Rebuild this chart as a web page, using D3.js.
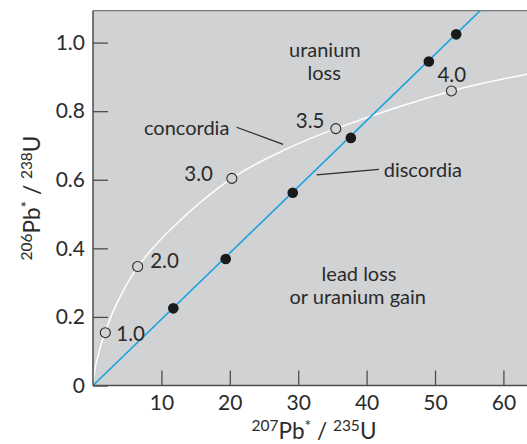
<!DOCTYPE html>
<html>
<head>
<meta charset="utf-8">
<script src="https://cdn.jsdelivr.net/npm/d3@7/dist/d3.min.js"></script>
<style>
  html, body { margin: 0; padding: 0; background: #fff; }
  svg { display: block; font-family: Lato, "Open Sans", sans-serif; }
</style>
</head>
<body>
<svg id="chart" width="527" height="444"></svg>
<script>
// ---- data ----
const concordiaX = [0, 0.15, 0.54, 1.75, 3.4, 6.54, 11.5, 20.28, 28, 35.5, 52.44, 63.45];
const concordiaY = [0, 0.031, 0.072, 0.154, 0.236, 0.346, 0.458, 0.604, 0.687, 0.749, 0.859, 0.908];

const ageLabels = ["1.0", "2.0", "3.0", "3.5", "4.0"];
const ageX = [1.8, 6.53, 20.3, 35.5, 52.4];
const ageY = [0.154, 0.347, 0.604, 0.749, 0.859];

const sampleX = [11.74, 19.4, 29.2, 37.7, 49.1, 53.1];
const sampleY = [0.225, 0.369, 0.562, 0.722, 0.945, 1.024];

const discordiaX = [0, 58];
const discordiaY = [0, 1.12];

const xTicks = [10, 20, 30, 40, 50, 60];
const yTicks = [0, 0.2, 0.4, 0.6, 0.8, 1.0];
const yTickLabels = ["0", "0.2", "0.4", "0.6", "0.8", "1.0"];

// ---- layout ----
const svg = d3.select("#chart");
const pL = 93, pR = 527, pT = 10.7, pB = 385.5;
const x = d3.scaleLinear().domain([0, 63.45]).range([pL, pR]);
const y = d3.scaleLinear().domain([0, 1.093]).range([pB, pT]);

const textColor = "#2b2b2b";
const axisColor = "#4d4d4d";

svg.append("defs").append("clipPath").attr("id", "clip")
  .append("rect").attr("x", pL).attr("y", pT).attr("width", pR - pL).attr("height", pB - pT);

// background
svg.append("rect").attr("x", pL).attr("y", pT).attr("width", pR - pL).attr("height", pB - pT)
  .attr("fill", "#d1d2d4");

// top border
svg.append("line").attr("x1", pL).attr("x2", pR).attr("y1", pT).attr("y2", pT)
  .attr("stroke", "#7a7a7a").attr("stroke-width", 1.3);

const plot = svg.append("g").attr("clip-path", "url(#clip)");

// concordia curve
const conc = concordiaX.map((d, i) => [d, concordiaY[i]]);
plot.append("path").datum(conc)
  .attr("d", d3.line().x(d => x(d[0])).y(d => y(d[1])).curve(d3.curveCatmullRom.alpha(0.5)))
  .attr("fill", "none").attr("stroke", "#ffffff").attr("stroke-width", 1.5);

// discordia line
const disc = discordiaX.map((d, i) => [d, discordiaY[i]]);
plot.append("path").datum(disc)
  .attr("d", d3.line().x(d => x(d[0])).y(d => y(d[1])))
  .attr("fill", "none").attr("stroke", "#1aa3df").attr("stroke-width", 1.6);

// axes
const xAxis = d3.axisBottom(x).tickValues(xTicks).tickFormat(d3.format("d"))
  .tickSizeInner(-15).tickSizeOuter(0).tickPadding(9.5);
const gx = svg.append("g").attr("transform", `translate(0,${pB})`).call(xAxis);
gx.select(".domain").remove();
gx.selectAll(".tick line").attr("stroke", axisColor).attr("stroke-width", 1.3);
gx.selectAll(".tick text").attr("fill", textColor).attr("font-size", 21).attr("font-family", "Lato, sans-serif");

const yAxis = d3.axisLeft(y).tickValues(yTicks).tickFormat((d, i) => yTickLabels[i])
  .tickSizeInner(-15).tickSizeOuter(0).tickPadding(8);
const gy = svg.append("g").attr("transform", `translate(${pL},0)`).call(yAxis);
gy.select(".domain").remove();
gy.selectAll(".tick line").attr("stroke", axisColor).attr("stroke-width", 1.3);
gy.selectAll(".tick text").attr("fill", textColor).attr("font-size", 21).attr("font-family", "Lato, sans-serif");

// axis lines
svg.append("line").attr("x1", pL).attr("x2", pL).attr("y1", pT).attr("y2", pB)
  .attr("stroke", axisColor).attr("stroke-width", 1.5);
svg.append("line").attr("x1", pL).attr("x2", pR).attr("y1", pB).attr("y2", pB)
  .attr("stroke", axisColor).attr("stroke-width", 1.5);

// age markers (open circles)
plot.selectAll("circle.age").data(ageX).join("circle").attr("class", "age")
  .attr("cx", d => x(d)).attr("cy", (d, i) => y(ageY[i])).attr("r", 5)
  .attr("fill", "#d1d2d4").attr("stroke", "#2b2b2b").attr("stroke-width", 1.1);

// sample points
plot.selectAll("circle.sample").data(sampleX).join("circle").attr("class", "sample")
  .attr("cx", d => x(d)).attr("cy", (d, i) => y(sampleY[i])).attr("r", 5.3)
  .attr("fill", "#1a1a1a");

// age labels (offsets in px relative to marker)
const ageLabelOffsets = [[11, 8.5], [12.5, 1], [-47.5, 2.5], [-40, -1], [-14, -9]];
svg.selectAll("text.agelab").data(ageLabels).join("text").attr("class", "agelab")
  .attr("x", (d, i) => x(ageX[i]) + ageLabelOffsets[i][0])
  .attr("y", (d, i) => y(ageY[i]) + ageLabelOffsets[i][1])
  .attr("font-size", 20.5).attr("fill", textColor).text(d => d);

// annotations (data coordinates)
const notes = [
  { t: "uranium", x: 33.9, y: 0.959, a: "middle" },
  { t: "loss", x: 33.8, y: 0.891, a: "middle" },
  { t: "concordia", x: 7.45, y: 0.73, a: "start" },
  { t: "discordia", x: 42.5, y: 0.609, a: "start" },
  { t: "lead loss", x: 38.9, y: 0.306, a: "middle" },
  { t: "or uranium gain", x: 38.7, y: 0.238, a: "middle" }
];
svg.selectAll("text.note").data(notes).join("text").attr("class", "note")
  .attr("x", d => x(d.x)).attr("y", d => y(d.y)).attr("text-anchor", d => d.a)
  .attr("font-size", 20).attr("fill", textColor).text(d => d.t);

const leaders = [
  [[21.0, 0.753], [27.8, 0.703]],
  [[32.7, 0.614], [41.8, 0.630]]
];
svg.selectAll("line.leader").data(leaders).join("line").attr("class", "leader")
  .attr("x1", d => x(d[0][0])).attr("y1", d => y(d[0][1]))
  .attr("x2", d => x(d[1][0])).attr("y2", d => y(d[1][1]))
  .attr("stroke", "#2b2b2b").attr("stroke-width", 1.2);

// axis titles
function title(g, parts) {
  const t = g.append("text").attr("text-anchor", "middle").attr("fill", textColor);
  let shift = 0;
  parts.forEach(p => {
    const target = p.sup ? -8 : 0;
    t.append("tspan").attr("dy", target - shift).attr("font-size", p.sup ? 15.5 : 22.5).text(p.t);
    shift = target;
  });
  return t;
}
const xt = svg.append("g").attr("transform", "translate(314,438.5)");
title(xt, [{ t: "207", sup: true }, { t: "Pb" }, { t: "*", sup: true }, { t: " / " }, { t: "235", sup: true }, { t: "U" }]);

const yt = svg.append("g").attr("transform", "translate(40,198) rotate(-90)");
title(yt, [{ t: "206", sup: true }, { t: "Pb" }, { t: "*", sup: true }, { t: " / " }, { t: "238", sup: true }, { t: "U" }]);
</script>
</body>
</html>
